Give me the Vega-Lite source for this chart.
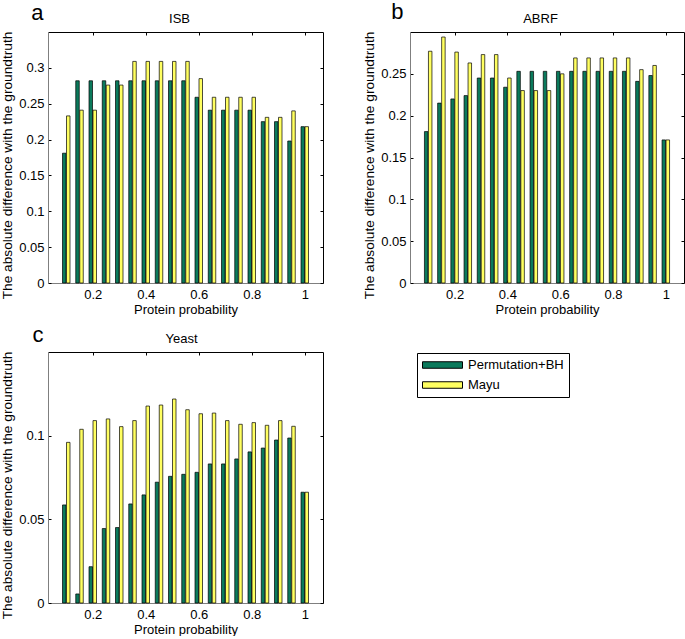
{
  "$schema": "https://vega.github.io/schema/vega-lite/v6.json",
  "padding": 0,
  "autosize": {"type": "pad"},
  "background": "white",
  "columns": 2,
  "spacing": {"row": 7, "column": 38},
  "config": {
    "font": "Liberation Sans",
    "view": {"stroke": null},
    "axis": {"grid": false, "labelFont": "Liberation Sans", "labelFontSize": 13, "labelColor": "black", "titleFont": "Liberation Sans", "titleFontSize": 13, "titleFontWeight": "normal", "titleColor": "black", "tickSize": -3, "tickColor": "black", "tickWidth": 1, "domainWidth": 1},
    "axisLeft": {"domainColor": "#7f7f7f", "labelPadding": 7, "titlePadding": 4, "titleFontSize": 13.7, "titleY": 133},
    "axisBottom": {"domainColor": "#7f7f7f", "labelPadding": 8, "titlePadding": 2},
    "axisTop": {"domainColor": "black", "labels": false, "titleFontWeight": "normal"},
    "axisRight": {"domainColor": "black", "labels": false, "titleFontWeight": "normal"},
    "legend": {"strokeColor": "black", "fillColor": "white", "padding": 5, "labelFont": "Liberation Sans", "labelFontSize": 13, "labelColor": "black", "symbolType": "M-1,-0.5H5.154V0.5H-1Z", "symbolSize": 169, "symbolStrokeColor": "black", "symbolStrokeWidth": 1, "rowPadding": 6, "labelOffset": 32, "cornerRadius": 0}
  },
  "datasets": {
    "rows": [
      {"set": "ISB", "p": 0.1, "perm": 0.181, "mayu": 0.233},
      {"set": "ISB", "p": 0.15, "perm": 0.282, "mayu": 0.241},
      {"set": "ISB", "p": 0.2, "perm": 0.282, "mayu": 0.241},
      {"set": "ISB", "p": 0.25, "perm": 0.282, "mayu": 0.276},
      {"set": "ISB", "p": 0.3, "perm": 0.282, "mayu": 0.276},
      {"set": "ISB", "p": 0.35, "perm": 0.282, "mayu": 0.309},
      {"set": "ISB", "p": 0.4, "perm": 0.282, "mayu": 0.309},
      {"set": "ISB", "p": 0.45, "perm": 0.282, "mayu": 0.309},
      {"set": "ISB", "p": 0.5, "perm": 0.282, "mayu": 0.309},
      {"set": "ISB", "p": 0.55, "perm": 0.282, "mayu": 0.309},
      {"set": "ISB", "p": 0.6, "perm": 0.259, "mayu": 0.285},
      {"set": "ISB", "p": 0.65, "perm": 0.241, "mayu": 0.259},
      {"set": "ISB", "p": 0.7, "perm": 0.241, "mayu": 0.259},
      {"set": "ISB", "p": 0.75, "perm": 0.241, "mayu": 0.259},
      {"set": "ISB", "p": 0.8, "perm": 0.241, "mayu": 0.259},
      {"set": "ISB", "p": 0.85, "perm": 0.225, "mayu": 0.231},
      {"set": "ISB", "p": 0.9, "perm": 0.225, "mayu": 0.231},
      {"set": "ISB", "p": 0.95, "perm": 0.198, "mayu": 0.24},
      {"set": "ISB", "p": 1, "perm": 0.218, "mayu": 0.218},
      {"set": "ABRF", "p": 0.1, "perm": 0.181, "mayu": 0.277},
      {"set": "ABRF", "p": 0.15, "perm": 0.215, "mayu": 0.294},
      {"set": "ABRF", "p": 0.2, "perm": 0.22, "mayu": 0.276},
      {"set": "ABRF", "p": 0.25, "perm": 0.224, "mayu": 0.263},
      {"set": "ABRF", "p": 0.3, "perm": 0.245, "mayu": 0.273},
      {"set": "ABRF", "p": 0.35, "perm": 0.245, "mayu": 0.273},
      {"set": "ABRF", "p": 0.4, "perm": 0.234, "mayu": 0.245},
      {"set": "ABRF", "p": 0.45, "perm": 0.253, "mayu": 0.23},
      {"set": "ABRF", "p": 0.5, "perm": 0.253, "mayu": 0.23},
      {"set": "ABRF", "p": 0.55, "perm": 0.253, "mayu": 0.23},
      {"set": "ABRF", "p": 0.6, "perm": 0.253, "mayu": 0.25},
      {"set": "ABRF", "p": 0.65, "perm": 0.253, "mayu": 0.269},
      {"set": "ABRF", "p": 0.7, "perm": 0.253, "mayu": 0.269},
      {"set": "ABRF", "p": 0.75, "perm": 0.253, "mayu": 0.269},
      {"set": "ABRF", "p": 0.8, "perm": 0.253, "mayu": 0.269},
      {"set": "ABRF", "p": 0.85, "perm": 0.253, "mayu": 0.269},
      {"set": "ABRF", "p": 0.9, "perm": 0.241, "mayu": 0.255},
      {"set": "ABRF", "p": 0.95, "perm": 0.248, "mayu": 0.26},
      {"set": "ABRF", "p": 1, "perm": 0.171, "mayu": 0.171},
      {"set": "Yeast", "p": 0.1, "perm": 0.0586, "mayu": 0.096},
      {"set": "Yeast", "p": 0.15, "perm": 0.0054, "mayu": 0.1038},
      {"set": "Yeast", "p": 0.2, "perm": 0.0217, "mayu": 0.109},
      {"set": "Yeast", "p": 0.25, "perm": 0.0445, "mayu": 0.11},
      {"set": "Yeast", "p": 0.3, "perm": 0.0451, "mayu": 0.1054},
      {"set": "Yeast", "p": 0.35, "perm": 0.0592, "mayu": 0.109},
      {"set": "Yeast", "p": 0.4, "perm": 0.0646, "mayu": 0.1177},
      {"set": "Yeast", "p": 0.45, "perm": 0.0722, "mayu": 0.1183},
      {"set": "Yeast", "p": 0.5, "perm": 0.0757, "mayu": 0.1219},
      {"set": "Yeast", "p": 0.55, "perm": 0.0769, "mayu": 0.1155},
      {"set": "Yeast", "p": 0.6, "perm": 0.0781, "mayu": 0.1131},
      {"set": "Yeast", "p": 0.65, "perm": 0.0831, "mayu": 0.1135},
      {"set": "Yeast", "p": 0.7, "perm": 0.0831, "mayu": 0.109},
      {"set": "Yeast", "p": 0.75, "perm": 0.0861, "mayu": 0.1068},
      {"set": "Yeast", "p": 0.8, "perm": 0.0903, "mayu": 0.1078},
      {"set": "Yeast", "p": 0.85, "perm": 0.0926, "mayu": 0.1062},
      {"set": "Yeast", "p": 0.9, "perm": 0.0974, "mayu": 0.109},
      {"set": "Yeast", "p": 0.95, "perm": 0.0986, "mayu": 0.1056},
      {"set": "Yeast", "p": 1, "perm": 0.0662, "mayu": 0.0662}
    ]
  },
  "data": {"name": "rows"},
  "concat": [
    {
      "transform": [{"filter": {"field": "set", "equal": "ISB"}}],
      "width": 275, "height": 251,
      "layer": [
        {
          "mark": {"type": "bar", "width": 3.5, "xOffset": -2, "stroke": "black", "strokeWidth": 0.7},
          "encoding": {
            "x": {"field": "p", "type": "quantitative", "scale": {"domain": [0.05, 1.05], "nice": false, "zero": false}, "axis": {"values": [0.2, 0.4, 0.6, 0.8, 1], "format": "~g", "title": "Protein probability"}},
            "y": {"field": "perm", "type": "quantitative", "scale": {"domain": [0, 0.35], "nice": false}, "axis": {"values": [0, 0.05, 0.1, 0.15, 0.2, 0.25, 0.3], "format": "~g", "title": "The absolute difference with the groundtruth"}},
            "color": {"datum": "Permutation+BH", "type": "nominal", "scale": {"domain": ["Permutation+BH", "Mayu"], "range": ["#0B7A5C", "#FFFF60"]}, "legend": {"title": null, "orient": "none", "legendX": 369, "legendY": 321}}
          }
        },
        {
          "mark": {"type": "bar", "width": 3.5, "xOffset": 2, "stroke": "black", "strokeWidth": 0.7},
          "encoding": {
            "x": {"field": "p", "type": "quantitative", "scale": {"domain": [0.05, 1.05], "nice": false, "zero": false}, "axis": {"orient": "top", "values": [0.2, 0.4, 0.6, 0.8, 1], "title": "ISB", "titleFontWeight": "normal", "titleX": 131, "titleY": -10, "titleBaseline": "alphabetic", "titleAlign": "center", "titleAngle": 0}},
            "y": {"field": "mayu", "type": "quantitative", "scale": {"domain": [0, 0.35], "nice": false}, "axis": {"orient": "right", "values": [0, 0.05, 0.1, 0.15, 0.2, 0.25, 0.3], "title": "a", "titleFontSize": 22, "titleX": -280, "titleY": -13, "titleAngle": 0, "titleAlign": "right", "titleBaseline": "alphabetic"}},
            "color": {"datum": "Mayu", "type": "nominal", "scale": {"domain": ["Permutation+BH", "Mayu"], "range": ["#0B7A5C", "#FFFF60"]}, "legend": {"title": null, "orient": "none", "legendX": 369, "legendY": 321}}
          }
        }
      ],
      "resolve": {"axis": {"x": "independent", "y": "independent"}}
    },
    {
      "transform": [{"filter": {"field": "set", "equal": "ABRF"}}],
      "width": 274, "height": 251,
      "layer": [
        {
          "mark": {"type": "bar", "width": 3.5, "xOffset": -2, "stroke": "black", "strokeWidth": 0.7},
          "encoding": {
            "x": {"field": "p", "type": "quantitative", "scale": {"domain": [0.05, 1.05], "nice": false, "zero": false}, "axis": {"values": [0.2, 0.4, 0.6, 0.8, 1], "format": "~g", "title": "Protein probability"}},
            "y": {"field": "perm", "type": "quantitative", "scale": {"domain": [0, 0.3], "nice": false}, "axis": {"values": [0, 0.05, 0.1, 0.15, 0.2, 0.25], "format": "~g", "title": "The absolute difference with the groundtruth"}},
            "color": {"datum": "Permutation+BH", "type": "nominal", "scale": {"domain": ["Permutation+BH", "Mayu"], "range": ["#0B7A5C", "#FFFF60"]}, "legend": {"title": null, "orient": "none", "legendX": 369, "legendY": 321}}
          }
        },
        {
          "mark": {"type": "bar", "width": 3.5, "xOffset": 2, "stroke": "black", "strokeWidth": 0.7},
          "encoding": {
            "x": {"field": "p", "type": "quantitative", "scale": {"domain": [0.05, 1.05], "nice": false, "zero": false}, "axis": {"orient": "top", "values": [0.2, 0.4, 0.6, 0.8, 1], "title": "ABRF", "titleFontWeight": "normal", "titleX": 130, "titleY": -10, "titleBaseline": "alphabetic", "titleAlign": "center", "titleAngle": 0}},
            "y": {"field": "mayu", "type": "quantitative", "scale": {"domain": [0, 0.3], "nice": false}, "axis": {"orient": "right", "values": [0, 0.05, 0.1, 0.15, 0.2, 0.25], "title": "b", "titleFontSize": 22, "titleX": -281, "titleY": -14, "titleAngle": 0, "titleAlign": "right", "titleBaseline": "alphabetic"}},
            "color": {"datum": "Mayu", "type": "nominal", "scale": {"domain": ["Permutation+BH", "Mayu"], "range": ["#0B7A5C", "#FFFF60"]}, "legend": {"title": null, "orient": "none", "legendX": 369, "legendY": 321}}
          }
        }
      ],
      "resolve": {"axis": {"x": "independent", "y": "independent"}}
    },
    {
      "transform": [{"filter": {"field": "set", "equal": "Yeast"}}],
      "width": 275, "height": 251,
      "layer": [
        {
          "mark": {"type": "bar", "width": 3.5, "xOffset": -2, "stroke": "black", "strokeWidth": 0.7},
          "encoding": {
            "x": {"field": "p", "type": "quantitative", "scale": {"domain": [0.05, 1.05], "nice": false, "zero": false}, "axis": {"values": [0.2, 0.4, 0.6, 0.8, 1], "format": "~g", "title": "Protein probability"}},
            "y": {"field": "perm", "type": "quantitative", "scale": {"domain": [0, 0.15], "nice": false}, "axis": {"values": [0, 0.05, 0.1], "format": "~g", "title": "The absolute difference with the groundtruth"}},
            "color": {"datum": "Permutation+BH", "type": "nominal", "scale": {"domain": ["Permutation+BH", "Mayu"], "range": ["#0B7A5C", "#FFFF60"]}, "legend": {"title": null, "orient": "none", "legendX": 369, "legendY": 321}}
          }
        },
        {
          "mark": {"type": "bar", "width": 3.5, "xOffset": 2, "stroke": "black", "strokeWidth": 0.7},
          "encoding": {
            "x": {"field": "p", "type": "quantitative", "scale": {"domain": [0.05, 1.05], "nice": false, "zero": false}, "axis": {"orient": "top", "values": [0.2, 0.4, 0.6, 0.8, 1], "title": "Yeast", "titleFontWeight": "normal", "titleX": 133, "titleY": -10, "titleBaseline": "alphabetic", "titleAlign": "center", "titleAngle": 0}},
            "y": {"field": "mayu", "type": "quantitative", "scale": {"domain": [0, 0.15], "nice": false}, "axis": {"orient": "right", "values": [0, 0.05, 0.1], "title": "c", "titleFontSize": 22, "titleX": -280, "titleY": -11, "titleAngle": 0, "titleAlign": "right", "titleBaseline": "alphabetic"}},
            "color": {"datum": "Mayu", "type": "nominal", "scale": {"domain": ["Permutation+BH", "Mayu"], "range": ["#0B7A5C", "#FFFF60"]}, "legend": {"title": null, "orient": "none", "legendX": 369, "legendY": 321}}
          }
        }
      ],
      "resolve": {"axis": {"x": "independent", "y": "independent"}}
    }
  ]
}
